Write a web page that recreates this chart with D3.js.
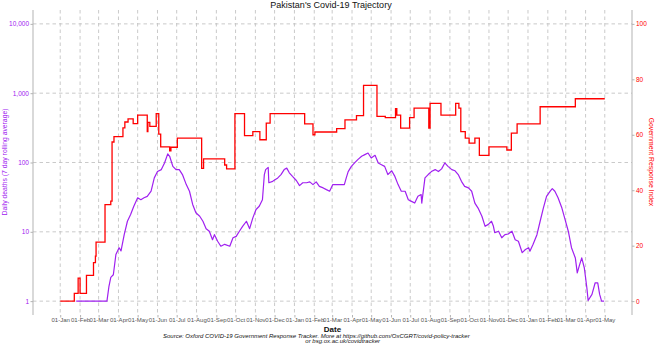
<!DOCTYPE html>
<html><head><meta charset="utf-8">
<script src="https://cdn.jsdelivr.net/npm/d3@7"></script>
<style>
html,body{margin:0;padding:0;background:#fff;}
svg{display:block;font-family:"Liberation Sans",Arial,sans-serif;}
</style></head>
<body><svg id="c" width="657" height="345"></svg>
<script>
// ---- data ----
const title = "Pakistan's Covid-19 Trajectory";
const leftTicks = [1, 10, 100, 1000, 10000];
const rightTicks = [0, 20, 40, 60, 80, 100];
const xTickDates = ["2020-01-01","2020-02-01","2020-03-01","2020-04-01","2020-05-01","2020-06-01","2020-07-01","2020-08-01","2020-09-01","2020-10-01","2020-11-01","2020-12-01",
  "2021-01-01","2021-02-01","2021-03-01","2021-04-01","2021-05-01","2021-06-01","2021-07-01","2021-08-01","2021-09-01","2021-10-01","2021-11-01","2021-12-01",
  "2022-01-01","2022-02-01","2022-03-01","2022-04-01","2022-05-01"];

const deathDates = ["2020-01-26","2020-03-14","2020-03-17","2020-03-20","2020-03-24","2020-03-28","2020-04-02","2020-04-05","2020-04-10","2020-04-15","2020-04-20","2020-04-25",
  "2020-05-01","2020-05-06","2020-05-11","2020-05-16","2020-05-22","2020-05-27","2020-06-01","2020-06-07","2020-06-12","2020-06-17","2020-06-20","2020-06-25","2020-06-30",
  "2020-07-05","2020-07-10","2020-07-16","2020-07-21","2020-07-26","2020-07-31","2020-08-06","2020-08-11","2020-08-16","2020-08-21","2020-08-26","2020-08-29",
  "2020-09-03","2020-09-08","2020-09-14","2020-09-22","2020-09-27","2020-10-02","2020-10-07","2020-10-12","2020-10-18","2020-10-23","2020-10-28",
  "2020-11-02","2020-11-07","2020-11-12","2020-11-15","2020-11-17","2020-11-21","2020-11-22","2020-11-28","2020-12-06","2020-12-11","2020-12-16","2020-12-20","2020-12-24","2020-12-29",
  "2021-01-04","2021-01-09","2021-01-14","2021-01-20","2021-01-25","2021-01-30","2021-02-04","2021-02-09","2021-02-15","2021-02-20","2021-02-25",
  "2021-03-02","2021-03-08","2021-03-13","2021-03-20","2021-03-23","2021-03-26","2021-03-31","2021-04-05","2021-04-10","2021-04-16","2021-04-21","2021-04-26",
  "2021-05-01","2021-05-07","2021-05-12","2021-05-17","2021-05-22","2021-05-27","2021-06-02","2021-06-07","2021-06-12","2021-06-17","2021-06-23","2021-06-28",
  "2021-07-03","2021-07-08","2021-07-13","2021-07-18","2021-07-19","2021-07-24","2021-07-29","2021-08-03","2021-08-09","2021-08-14","2021-08-19","2021-08-24","2021-08-29",
  "2021-09-04","2021-09-09","2021-09-14","2021-09-19","2021-09-24","2021-09-30","2021-10-05","2021-10-10","2021-10-15","2021-10-21","2021-10-26","2021-10-31",
  "2021-11-05","2021-11-08","2021-11-10","2021-11-16","2021-11-21","2021-11-26","2021-12-01","2021-12-07","2021-12-12","2021-12-17","2021-12-23","2021-12-28",
  "2022-01-02","2022-01-04","2022-01-09","2022-01-15","2022-01-20","2022-01-25","2022-01-30","2022-02-05","2022-02-08","2022-02-12","2022-02-17","2022-02-23","2022-02-28",
  "2022-03-05","2022-03-10","2022-03-16","2022-03-19","2022-03-22","2022-03-26","2022-03-30","2022-04-03","2022-04-05","2022-04-11","2022-04-16","2022-04-20","2022-04-23","2022-04-26","2022-04-30"];
const deathValues = [1,1,1.6,2.2,2.4,4.7,5.9,5.3,9.1,14.2,17.8,23.4,
  31,29,31,32.5,38.5,60,74,79,98.5,133,123,88,79,
  79,67,48,38.5,24.8,18.8,16.8,14.2,11.1,10.2,7.7,9.1,
  7.3,6.2,6.6,6.2,8.2,8.6,10.2,12,14.2,11.1,15.9,
  21,23.4,29,67,79,85,51,53.5,60,67,79,83,71,63,
  55,46.4,51,51,52.5,48,52.5,45.2,43,40.6,38.5,
  48,48,48,48,60,74,88,98.5,110,123,130,137,
  116,127,98.5,93,88,67,76,63,48,38.5,38.5,29,
  27.5,26,32.5,34.5,26,60,67,74,79,74,81,98.5,88,
  79,76,67,53.5,45.2,43,38.5,26,22,16.8,12,12.8,
  14.2,12,9.7,10.2,8.2,9.1,9.3,10.2,7.7,7.3,5,5.55,
  5.9,5.25,6.6,9.1,14.2,22,32.5,39,42,38.5,31,22,15,
  10.2,5.9,4.2,2.56,3.2,4.2,3.03,1.56,1.02,1.25,1.84,1.84,1.25,1,1];

const stringencyDates = ["2020-01-01","2020-01-23","2020-01-29","2020-02-01","2020-02-11","2020-02-22","2020-02-25","2020-02-26","2020-03-11","2020-03-20","2020-03-22","2020-03-25",
  "2020-04-08","2020-04-11","2020-04-16","2020-04-24","2020-05-01","2020-05-16","2020-05-17","2020-05-20","2020-05-30","2020-06-03","2020-06-06","2020-06-20","2020-06-22",
  "2020-07-02","2020-08-09","2020-08-12","2020-09-14","2020-09-17","2020-09-30","2020-10-15","2020-10-28","2020-11-08","2020-11-18","2020-11-24",
  "2021-01-17","2021-01-30","2021-02-02","2021-03-08","2021-03-21","2021-04-08","2021-04-19","2021-05-10","2021-05-23","2021-06-08","2021-06-10","2021-06-16",
  "2021-06-30","2021-07-07","2021-07-30","2021-08-01","2021-08-18","2021-09-10","2021-09-15","2021-09-18","2021-09-25","2021-10-01","2021-10-10","2021-10-17",
  "2021-11-01","2021-11-29","2021-12-06","2021-12-15","2022-01-20","2022-03-16","2022-05-01"];
const stringencyValues = [0,2.78,8.33,2.78,9.26,13.89,16.2,21.3,34.8,36.1,57.4,59.3,
  62.5,64.6,65.7,64,67.1,61.1,64.5,63,67.6,60.2,55.6,54.2,55.5,
  58.8,47.9,51.3,49.1,47.7,67.6,59.7,61.1,58.2,64.2,67.6,
  63.9,60,61,62.2,65.4,66.9,77.8,66.6,66.2,69.4,67.1,62.4,
  66.2,69.6,62.4,71.3,67.1,71.3,69.6,61.1,58.8,57,58.8,52.6,
  55.6,54.5,60.6,63.9,70.1,73,73];

const leftTitle = "Daily deaths (7 day rolling average)";
const rightTitle = "Government Response Index";
const xTitle = "Date";
const captionLines = ["Source: Oxford COVID-19 Government Response Tracker. More at https://github.com/OxCGRT/covid-policy-tracker",
  "or bsg.ox.ac.uk/covidtracker"];

// ---- layout ----
const P = {l: 33, r: 632, t: 10, b: 315};
const purple = "#A020F0", red = "#FF0000", grid = "#c4c4c4", axisCol = "#b3b3b3";
const parse = d3.utcParse("%Y-%m-%d");
const svg = d3.select("#c");

const d0 = parse("2020-01-01"), d1 = parse("2022-05-01");
const span = d1 - d0;
const x = d3.scaleUtc().domain([new Date(+d0 - 0.05*span), new Date(+d1 + 0.05*span)]).range([P.l, P.r]);
const yL = d3.scaleLog().domain([Math.pow(10,-0.2), Math.pow(10,4.2)]).range([P.b, P.t]);
const yR = d3.scaleLinear().domain([-5, 105]).range([P.b, P.t]);

// gridlines
const g = svg.append("g");
g.selectAll("line.h").data(leftTicks).join("line")
  .attr("x1", P.l).attr("x2", P.r).attr("y1", d => yL(d)).attr("y2", d => yL(d))
  .attr("stroke", grid).attr("stroke-width", 0.9).attr("stroke-dasharray", "3.5,3");
g.selectAll("line.v").data(xTickDates).join("line")
  .attr("x1", d => x(parse(d))).attr("x2", d => x(parse(d))).attr("y1", P.t).attr("y2", P.b)
  .attr("stroke", grid).attr("stroke-width", 0.9).attr("stroke-dasharray", "3.5,3");

// axes
const fmtComma = d3.format(",");
const axL = svg.append("g").attr("transform", `translate(${P.l},0)`)
  .call(d3.axisLeft(yL).tickValues(leftTicks).tickFormat(fmtComma).tickSize(2.5).tickPadding(1.5));
const axR = svg.append("g").attr("transform", `translate(${P.r},0)`)
  .call(d3.axisRight(yR).tickValues(rightTicks).tickSize(2.5).tickPadding(1.5));
const axB = svg.append("g").attr("transform", `translate(0,${P.b})`)
  .call(d3.axisBottom(x).tickValues(xTickDates.map(parse)).tickFormat(d3.utcFormat("%d-%b")).tickSize(2.5).tickPadding(0.6));
[axL, axR, axB].forEach(a => {
  a.selectAll(".tick line").attr("stroke", axisCol);
  a.selectAll("text").attr("font-size", 6.5).attr("font-family", "Liberation Sans, Arial, sans-serif");
});
axB.selectAll("text").attr("font-size", 6.05);
axB.select(".domain").remove();
axL.select(".domain").attr("d", `M0,${P.t}V${P.b}`).attr("stroke", axisCol).attr("stroke-width", 1);
axR.select(".domain").attr("d", `M0,${P.t}V${P.b}`).attr("stroke", axisCol).attr("stroke-width", 1);
axL.selectAll("text").attr("fill", purple);
axR.selectAll("text").attr("fill", red);
axB.selectAll("text").attr("fill", "#555");

// lines
const deaths = deathDates.map((d, i) => ({date: parse(d), v: deathValues[i]}));
const stringency = stringencyDates.map((d, i) => ({date: parse(d), v: stringencyValues[i]}));
svg.append("path").datum(stringency)
  .attr("fill", "none").attr("stroke", red).attr("stroke-width", 1.3)
  .attr("d", d3.line().x(d => x(d.date)).y(d => yR(d.v)).curve(d3.curveStepAfter));
svg.append("path").datum(deaths)
  .attr("fill", "none").attr("stroke", purple).attr("stroke-width", 1.2).attr("stroke-linejoin", "round")
  .attr("d", d3.line().x(d => x(d.date)).y(d => yL(d.v)));

// titles
svg.append("text").attr("x", 331).attr("y", 8.3).attr("text-anchor", "middle")
  .attr("font-size", 9).attr("fill", "#111").text(title);
svg.append("text").attr("transform", `translate(7,162) rotate(-90)`).attr("text-anchor", "middle")
  .attr("font-size", 6.8).attr("fill", purple).text(leftTitle);
svg.append("text").attr("transform", `translate(649,162) rotate(90)`).attr("text-anchor", "middle")
  .attr("font-size", 6.8).attr("fill", red).text(rightTitle);
svg.append("text").attr("x", (P.l + P.r) / 2).attr("y", 331.5).attr("text-anchor", "middle")
  .attr("font-size", 8).attr("font-weight", "bold").attr("fill", "#111").text(xTitle);
svg.append("text").attr("x", 163).attr("y", 337.8).attr("font-size", 6).attr("font-style", "italic")
  .attr("fill", "#111").text(captionLines[0]);
svg.append("text").attr("x", 380).attr("y", 343.3).attr("text-anchor", "end").attr("font-size", 6).attr("font-style", "italic")
  .attr("fill", "#111").text(captionLines[1]);
</script></body></html>
